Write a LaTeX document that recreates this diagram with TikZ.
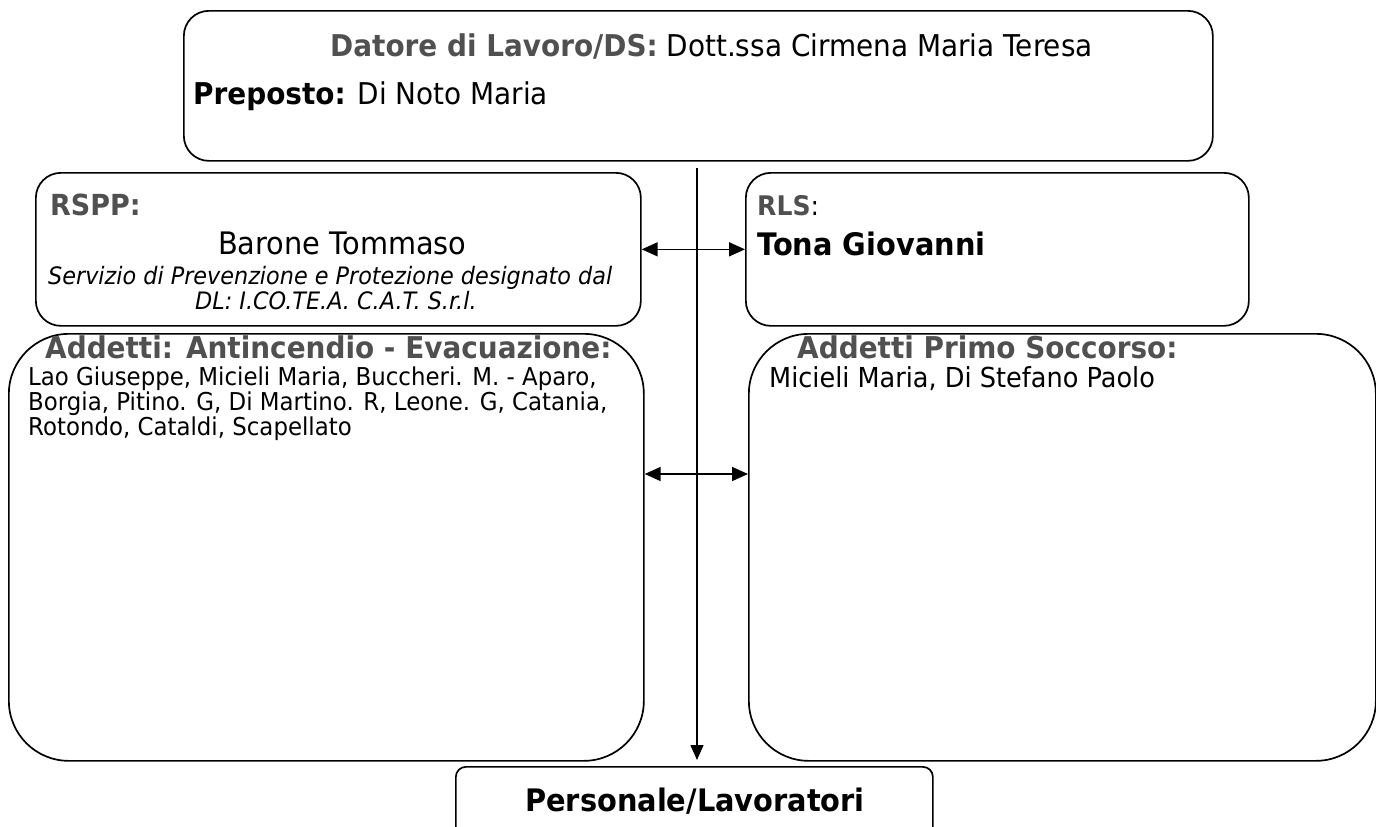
\documentclass[tikz,border=0pt]{standalone}
\usepackage{fontspec}
\setmainfont{DejaVu Sans}[FakeStretch=0.93]
\usetikzlibrary{arrows.meta}
\definecolor{hdr}{HTML}{505050}
\newcommand\fsz[1]{\fontsize{#1}{#1}\selectfont}
\newcommand\hd[1]{\textcolor{hdr}{\bfseries #1}}
\begin{document}
\begin{tikzpicture}[x=1pt,y=-1pt,
  box/.style={draw=black, line width=1.7pt, anchor=north west, inner sep=0pt},
  txt/.style={anchor=base west, inner sep=0pt},
  conn/.style={line width=1.6pt, {Triangle[width=14pt,length=16pt]}-{Triangle[width=14pt,length=16pt]}},
  down/.style={line width=1.5pt, -{Triangle[width=13pt,length=15pt]}}]
\useasboundingbox[fill=white] (0,0) rectangle (1376,827);
% boxes
\node[box, rounded corners=25pt, minimum width=1029pt, minimum height=150pt] (top) at (183,10) {};
\node[box, rounded corners=25pt, minimum width=605pt, minimum height=153pt] (rspp) at (35,172) {};
\node[box, rounded corners=25pt, minimum width=503pt, minimum height=153pt] (rls) at (745,172) {};
\node[box, rounded corners=60pt, minimum width=635pt, minimum height=427pt] (aae) at (8,333) {};
\node[box, rounded corners=60pt, minimum width=627pt, minimum height=427pt] (aps) at (748,333) {};
\node[box, rounded corners=10pt, minimum width=477pt, minimum height=80pt] (pers) at (455,766) {};
% texts
\node[txt, font=\fsz{30}] (t1) at (330,56) {\hd{Datore di Lavoro/DS:} Dott.ssa Cirmena Maria Teresa};
\node[txt, font=\fsz{30}] (t2) at (193,104) {\textbf{Preposto:} Di Noto Maria};
\node[txt, font=\fsz{29}] (t3) at (50,215) {\hd{RSPP:}};
\node[txt, font=\fsz{31}] (t4) at (218,254) {Barone Tommaso};
\node[txt, font=\fsz{24}\itshape] (t5) at (48,284) {Servizio di Prevenzione e Protezione designato dal};
\node[txt, font=\fsz{24}\itshape] (t6) at (195,309) {DL: I.CO.TE.A. C.A.T. S.r.l.};
\node[txt, font=\fsz{27}] (t7) at (757,215) {\hd{RLS}:};
\node[txt, font=\fsz{31}\bfseries] (t8) at (757,255) {Tona Giovanni};
\node[txt, font=\fsz{30}] (t9) at (45,358) {\hd{Addetti: Antincendio - Evacuazione:}};
\node[txt, font=\fsz{24.6}] (t10) at (28,385) {Lao Giuseppe, Micieli Maria, Buccheri. M. - Aparo,};
\node[txt, font=\fsz{24.6}] (t11) at (28,410) {Borgia, Pitino. G, Di Martino. R, Leone. G, Catania,};
\node[txt, font=\fsz{24.6}] (t12) at (28,435) {Rotondo, Cataldi, Scapellato};
\node[txt, font=\fsz{30}] (t13) at (797,358) {\hd{Addetti Primo Soccorso:}};
\node[txt, font=\fsz{27.5}] (t14) at (769,387) {Micieli Maria, Di Stefano Paolo};
\node[anchor=base, inner sep=0pt, font=\fsz{31}\bfseries] (t15) at (695,811) {Personale/Lavoratori};
% connectors
\coordinate (vtop) at (697,168);
\draw[down] (vtop) -- ([yshift=6pt]pers.north -| vtop);
\draw[conn] (rspp.east) -- (rls.west);
\coordinate (a2) at (697,474);
\draw[conn] (aae.east |- a2) -- (aps.west |- a2);
\end{tikzpicture}
\end{document}
